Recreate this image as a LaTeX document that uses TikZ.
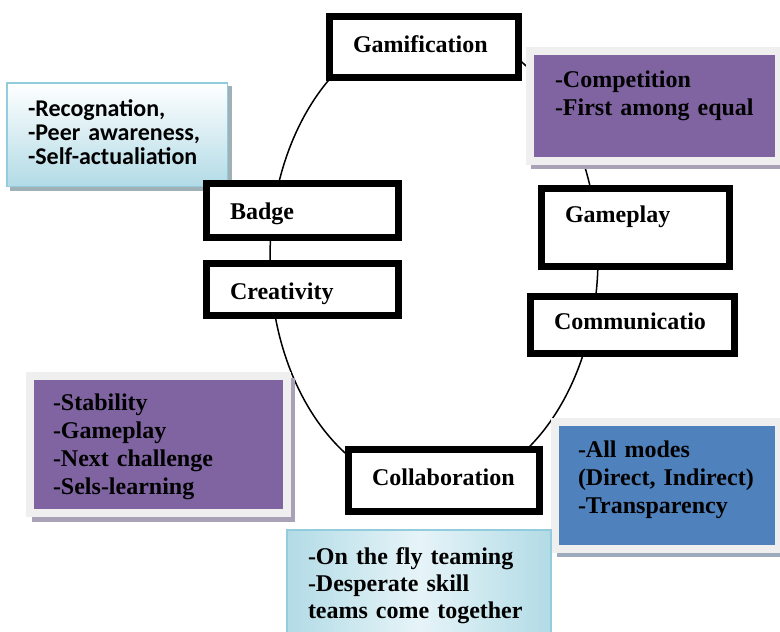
\documentclass[tikz,border=0pt]{standalone}
\usepackage{fontspec}
\setmainfont{Liberation Serif}
\newfontfamily\notesans{Carlito}
\usetikzlibrary{calc}
\definecolor{panelpurple}{HTML}{8064A2}
\definecolor{panelblue}{HTML}{4F81BD}
\definecolor{framegrey}{HTML}{EFEFEF}
\definecolor{aquaedge}{HTML}{93CDDD}
\definecolor{aquadeep}{HTML}{B2DBE6}
\definecolor{aqualight}{HTML}{E6F4F8}
\definecolor{shadepurple}{HTML}{A9A1B6}
\definecolor{shadeblue}{HTML}{9DABBC}
\definecolor{shadeaqua}{HTML}{9FB0B6}
\begin{document}
\begin{tikzpicture}[x=1pt,y=-1pt,
  stagebox/.style={rectangle, draw=black, line width=7pt, fill=white,
    inner sep=0pt, outer sep=0pt},
  panel/.style={rectangle, draw=framegrey, line width=8pt,
    inner sep=0pt, outer sep=0pt},
  aquapanel/.style={rectangle, draw=aquaedge, line width=2pt,
    inner sep=0pt, outer sep=0pt},
  stagetext/.style={inner sep=0pt, outer sep=0pt, anchor=base west,
    font=\bfseries\fontsize{24}{28}\selectfont},
  notetext/.style={inner sep=0pt, outer sep=0pt, anchor=base west,
    text width=240pt, align=left,
    font=\bfseries\fontsize{24}{28}\selectfont},
  sanstext/.style={notetext, font=\notesans\bfseries\fontsize{24}{24}\selectfont}
]
\useasboundingbox (0,0) rectangle (780,632);

% the cycle running through the stages
\draw[line width=1.5pt] (434,258) ellipse [x radius=164pt, y radius=232pt];

% drop shadows behind the note panels
\fill[shadeaqua]   (10,86)  rectangle (232,191);
\fill[shadepurple] (531,55) rectangle (784,169);
\fill[shadepurple] (32,378) rectangle (295,522);
\fill[shadeblue]   (557,424) rectangle (784,557);

% note panels
\node[rectangle, draw=aquaedge, line width=1.5pt, inner sep=0pt, outer sep=0pt,
      top color=white, bottom color=aquadeep,
      minimum width=220.5pt, minimum height=103.5pt] (recog) at (117,134.5) {};
\node[panel, fill=panelpurple, minimum width=249pt, minimum height=110pt] (comp) at (654.5,106) {};
\node[panel, fill=panelpurple, minimum width=257pt, minimum height=137pt] (stab) at (158.5,444.5) {};
\node[panel, fill=panelblue, minimum width=224pt, minimum height=127pt] (modes) at (667,485.5) {};
\node[aquapanel, left color=aquadeep, right color=aquadeep, middle color=aqualight,
      minimum width=264pt, minimum height=115pt] (fly) at (419,587.5) {};

% stages on the cycle
\node[stagebox, minimum width=189pt, minimum height=61pt] (gam)      at (424,47) {};
\node[stagebox, minimum width=192pt, minimum height=54pt] (badge)    at (302.5,210.5) {};
\node[stagebox, minimum width=192pt, minimum height=52pt] (creat)    at (302.5,289.5) {};
\node[stagebox, minimum width=188pt, minimum height=78pt] (gameplay) at (635.5,227.5) {};
\node[stagebox, minimum width=204pt, minimum height=57pt] (comm)     at (632.5,325) {};
\node[stagebox, minimum width=191pt, minimum height=62pt] (collab)   at (444,480.5) {};

% stage labels
\node[stagetext] (gamt)      at (353,52)  {Gamification};
\node[stagetext] (badget)    at (230,219) {Badge};
\node[stagetext] (creatt)    at (230,299) {Creativity};
\node[stagetext] (gameplayt) at (565,222) {Gameplay};
\node[stagetext] (commt)     at (554,329) {Communicatio};
\node[stagetext] (collabt)   at (372,485) {Collaboration};

% note texts
\node[sanstext] (recogt) at (28,116) {-Recognation,\\-Peer awareness,\\-Self-actualiation};
\node[notetext] (compt)  at (555,87)  {-Competition\\-First among equal};
\node[notetext] (stabt)  at (53,410)  {-Stability\\-Gameplay\\-Next challenge\\-Sels-learning};
\node[notetext] (modest) at (578,457) {-All modes\\(Direct, Indirect)\\-Transparency};
\node[notetext, font=\bfseries\fontsize{24}{27}\selectfont] (flyt) at (308,564)
  {-On the fly teaming\\-Desperate skill\\teams come together};
\end{tikzpicture}
\end{document}
